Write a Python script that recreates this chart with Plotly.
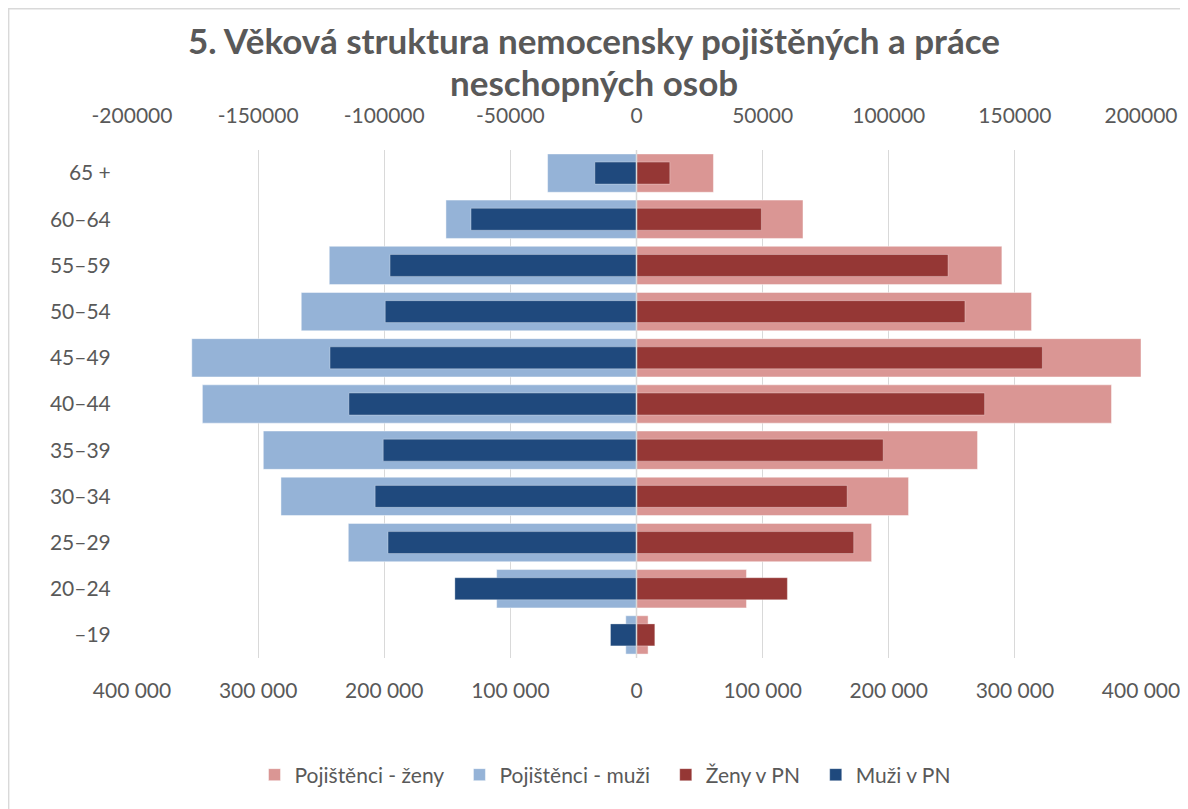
import plotly.graph_objects as go

# ---- data ----
categories = ["65 +", "60–64", "55–59", "50–54", "45–49", "40–44",
              "35–39", "30–34", "25–29", "20–24", "–19"]
pojistenci_zeny = [61000, 132000, 289700, 313200, 400000, 376600, 270400, 215700, 186400, 87200, 9200]
pojistenci_muzi = [70500, 151100, 243600, 265800, 352600, 344200, 295900, 281900, 228500, 110900, 8500]
zeny_pn = [13200, 49500, 123500, 130200, 160900, 138000, 97800, 83500, 86100, 59800, 7250]
muzi_pn = [16500, 65600, 97700, 99600, 121500, 114000, 100400, 103600, 98500, 72000, 10300]

bottom_ticks = [-400000, -300000, -200000, -100000, 0, 100000, 200000, 300000, 400000]
top_ticks = [-200000, -150000, -100000, -50000, 0, 50000, 100000, 150000, 200000]
title_lines = ["5. Věková struktura nemocensky pojištěných a práce", "neschopných osob"]

FONT = "Lato"
GREY = "#595959"
NB = "\u00a0"

fig = go.Figure()
fig.add_trace(go.Bar(y=categories, x=pojistenci_zeny, orientation="h", name="Pojištěnci - ženy" + NB * 2,
                     marker=dict(color="#DA9694", line=dict(color="rgba(255,255,255,0.45)", width=1)),
                     width=0.83, xaxis="x", yaxis="y"))
fig.add_trace(go.Bar(y=categories, x=[-v for v in pojistenci_muzi], orientation="h", name="Pojištěnci - muži" + NB * 2,
                     marker=dict(color="#95B3D7", line=dict(color="rgba(255,255,255,0.45)", width=1)),
                     width=0.83, xaxis="x", yaxis="y"))
fig.add_trace(go.Bar(y=categories, x=zeny_pn, orientation="h", name="Ženy v PN" + NB * 2,
                     marker=dict(color="#953735", line=dict(color="rgba(255,255,255,0.3)", width=1)),
                     width=0.475, xaxis="x2", yaxis="y"))
fig.add_trace(go.Bar(y=categories, x=[-v for v in muzi_pn], orientation="h", name="Muži v PN",
                     marker=dict(color="#1F497D", line=dict(color="rgba(255,255,255,0.3)", width=1)),
                     width=0.475, xaxis="x2", yaxis="y"))

# page body offset of 8px compensated: figure coords = reference coords - 8
OFF = 8
W, H = 1188 - OFF, 809 - OFF
L, T = 132 - OFF, 150 - OFF
R, B = 47, 151
plot_w = W - L - R
plot_h = H - T - B
plot_left_ref = L + OFF
plot_bottom_ref = T + plot_h + OFF


def ref_x(px):
    return (px - plot_left_ref) / plot_w


def ref_y(py):
    return (plot_bottom_ref - py) / plot_h


annotations = [
    dict(text=f"<b>{title_lines[0]}</b>", x=ref_x(594), y=ref_y(40), xref="paper", yref="paper",
         xanchor="center", yanchor="middle", showarrow=False,
         font=dict(family=FONT, size=35, color=GREY)),
    dict(text=f"<b>{title_lines[1]}</b>", x=ref_x(594), y=ref_y(82), xref="paper", yref="paper",
         xanchor="center", yanchor="middle", showarrow=False,
         font=dict(family=FONT, size=35, color=GREY)),
]

fig.update_layout(
    width=W, height=H,
    margin=dict(l=L, r=R, t=T, b=B, autoexpand=False),
    paper_bgcolor="white", plot_bgcolor="white",
    barmode="overlay",
    font=dict(family=FONT, color=GREY, size=21),
    xaxis=dict(range=[-400000, 400000], tickvals=bottom_ticks,
               ticktext=[f"{abs(v):,}".replace(",", " ") for v in bottom_ticks],
               showgrid=True, gridcolor="#D9D9D9", gridwidth=1.3, zeroline=False,
               showline=False, ticks="outside", ticklen=14, tickcolor="rgba(0,0,0,0)",
               tickfont=dict(size=21, color=GREY), fixedrange=True),
    xaxis2=dict(range=[-200000, 200000], tickvals=top_ticks, ticktext=[str(v) for v in top_ticks],
                overlaying="x", side="top", showgrid=False, zeroline=False, showline=False,
                ticks="outside", ticklen=18, tickcolor="rgba(0,0,0,0)",
                tickfont=dict(size=21, color=GREY), fixedrange=True),
    yaxis=dict(autorange="reversed", showgrid=False, zeroline=False, showline=False,
               ticks="outside", ticklen=16, tickcolor="rgba(0,0,0,0)",
               tickfont=dict(size=21, color=GREY), fixedrange=True),
    legend=dict(orientation="h", x=ref_x(605), xanchor="center",
                y=ref_y(775), yanchor="middle",
                font=dict(size=21, color=GREY), itemwidth=30, traceorder="normal"),
    showlegend=True,
    annotations=annotations,
    shapes=[
        dict(type="line", xref="x", yref="paper", x0=0, x1=0, y0=0, y1=1,
             line=dict(color="#D9D9D9", width=1.5), layer="above"),
        dict(type="rect", xref="paper", yref="paper",
             x0=ref_x(OFF + 0.7), x1=ref_x(1200),
             y0=ref_y(830), y1=ref_y(OFF + 0.7),
             line=dict(color="#D9D9D9", width=1.4), fillcolor="rgba(0,0,0,0)", layer="below"),
    ],
)

fig.write_html("out.html")
